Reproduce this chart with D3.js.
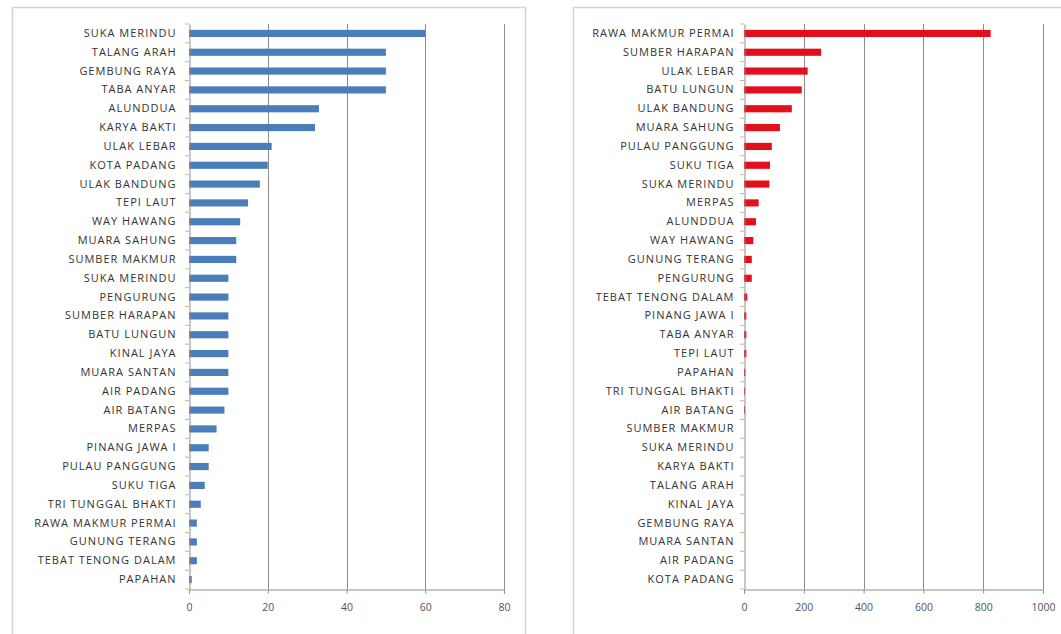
<!DOCTYPE html>
<html lang="en">
<head>
  <meta charset="utf-8">
  <title>Two bar charts</title>
  <script src="https://d3js.org/d3.v7.min.js"></script>
  <style>
    body { margin: 0; background: #fff; }
    text { font-family: "Open Sans", sans-serif; }
  </style>
</head>
<body>
<script>
// left chart (blue)
var leftNames = ["SUKA MERINDU", "TALANG ARAH", "GEMBUNG RAYA", "TABA ANYAR", "ALUNDDUA",
  "KARYA BAKTI", "ULAK LEBAR", "KOTA PADANG", "ULAK BANDUNG", "TEPI LAUT", "WAY HAWANG",
  "MUARA SAHUNG", "SUMBER MAKMUR", "SUKA MERINDU", "PENGURUNG", "SUMBER HARAPAN",
  "BATU LUNGUN", "KINAL JAYA", "MUARA SANTAN", "AIR PADANG", "AIR BATANG", "MERPAS",
  "PINANG JAWA I", "PULAU PANGGUNG", "SUKU TIGA", "TRI TUNGGAL BHAKTI",
  "RAWA MAKMUR PERMAI", "GUNUNG TERANG", "TEBAT TENONG DALAM", "PAPAHAN"];
var leftValues = [60, 50, 50, 50, 33, 32, 21, 20, 18, 15, 13, 12, 12, 10, 10, 10, 10, 10, 10, 10,
  9, 7, 5, 5, 4, 3, 2, 2, 2, 0.7];
var leftTicks = [0, 20, 40, 60, 80];

// right chart (red)
var rightNames = ["RAWA MAKMUR PERMAI", "SUMBER HARAPAN", "ULAK LEBAR", "BATU LUNGUN",
  "ULAK BANDUNG", "MUARA SAHUNG", "PULAU PANGGUNG", "SUKU TIGA", "SUKA MERINDU", "MERPAS",
  "ALUNDDUA", "WAY HAWANG", "GUNUNG TERANG", "PENGURUNG", "TEBAT TENONG DALAM",
  "PINANG JAWA I", "TABA ANYAR", "TEPI LAUT", "PAPAHAN", "TRI TUNGGAL BHAKTI", "AIR BATANG",
  "SUMBER MAKMUR", "SUKA MERINDU", "KARYA BAKTI", "TALANG ARAH", "KINAL JAYA",
  "GEMBUNG RAYA", "MUARA SANTAN", "AIR PADANG", "KOTA PADANG"];
var rightValues = [825, 258, 213, 193, 160, 120, 93, 87, 85, 49, 40, 31, 26, 26, 11, 8, 8, 8,
  4, 3, 3, 0, 0, 0, 0, 0, 0, 0, 0, 0];
var rightTicks = [0, 200, 400, 600, 800, 1000];

var W = 1061, H = 634;
var svg = d3.select("body").append("svg")
  .attr("width", W)
  .attr("height", H);

function drawPanel(o) {
  var g = svg.append("g");

  // frame of the chart
  g.append("rect")
    .attr("x", o.frame[0] + 0.5).attr("y", o.frame[1] + 0.5)
    .attr("width", o.frame[2]).attr("height", o.frame[3])
    .attr("fill", "#fff")
    .attr("stroke", "#d4d4d4")
    .attr("stroke-width", 1.5);

  var x = d3.scaleLinear().domain([0, o.ticks[o.ticks.length - 1]]).range([o.x0, o.x1]);
  // index as domain, the names repeat
  var y = d3.scaleBand().domain(d3.range(o.names.length)).range([o.y0, o.y1]).paddingInner(0.62).paddingOuter(0.31);
  var band = d3.scaleBand().domain(d3.range(o.names.length)).range([o.y0, o.y1]);

  // vertical gridlines
  g.selectAll(".grid").data(o.ticks.slice(1)).enter().append("line")
    .attr("x1", function(d) { return Math.round(x(d)) + 0.5; })
    .attr("x2", function(d) { return Math.round(x(d)) + 0.5; })
    .attr("y1", o.y0).attr("y2", o.y1)
    .attr("stroke", "#8c8c8c")
    .attr("stroke-width", 1);

  // bars
  g.selectAll(".bar").data(o.values).enter().append("rect")
    .attr("x", x(0))
    .attr("y", function(d, i) { return y(i); })
    .attr("width", function(d) { return x(d) - x(0); })
    .attr("height", y.bandwidth())
    .attr("fill", o.color);

  // category axis
  var yAxis = d3.axisLeft(band).tickSize(0).tickPadding(o.labelGap)
    .tickFormat(function(i) { return o.names[i]; });
  var ya = g.append("g").attr("transform", "translate(" + (Math.round(x(0)) + 0.5) + ",0)").call(yAxis);
  ya.select(".domain").attr("stroke", "#8c8c8c");
  ya.selectAll("text").attr("fill", "#333").style("font-size", "11px")
    .style("letter-spacing", "1px")
    .style("font-family", "'Open Sans', sans-serif");
  // small tick marks at band edges
  g.selectAll(".ytick").data(d3.range(o.names.length + 1)).enter().append("line")
    .attr("x1", x(0) - 4).attr("x2", x(0))
    .attr("y1", function(i) { return o.y0 + i * band.step(); })
    .attr("y2", function(i) { return o.y0 + i * band.step(); })
    .attr("stroke", "#c8a070")
    .attr("stroke-width", 0.8);

  // value axis
  var xAxis = d3.axisBottom(x).tickValues(o.ticks).tickSize(4).tickPadding(10)
    .tickFormat(d3.format("d"));
  var xa = g.append("g").attr("transform", "translate(0," + (o.y1 + 0.5) + ")").call(xAxis);
  xa.select(".domain").attr("stroke", "#8c8c8c");
  xa.selectAll("line").attr("stroke", "#8c8c8c");
  xa.selectAll("text").attr("fill", "#555").style("font-size", "10.5px")
    .style("font-family", "'Open Sans', sans-serif");
}

drawPanel({
  names: leftNames, values: leftValues, ticks: leftTicks,
  color: "#4a7ebb",
  frame: [12, 7, 513, 640],
  x0: 189, x1: 504, y0: 24, y1: 589,
  labelGap: 13
});

drawPanel({
  names: rightNames, values: rightValues, ticks: rightTicks,
  color: "#e2101c",
  frame: [573, 7, 500, 640],
  x0: 744, x1: 1043, y0: 24, y1: 589,
  labelGap: 10
});
</script>
</body>
</html>
